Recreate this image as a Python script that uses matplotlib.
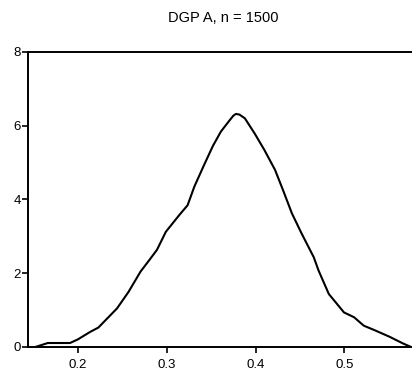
import matplotlib
matplotlib.use('Agg')
from matplotlib import pyplot as plt

# density estimate
x = [0.153, 0.166, 0.191, 0.200, 0.2136, 0.223, 0.244, 0.257, 0.2705, 0.280,
     0.289, 0.299, 0.314, 0.3235, 0.331, 0.342, 0.352, 0.361, 0.370, 0.375,
     0.378, 0.382, 0.388, 0.399, 0.410, 0.422, 0.431, 0.441, 0.452, 0.4656,
     0.471, 0.4826, 0.4997, 0.511, 0.522, 0.534, 0.551, 0.566, 0.5745]
y = [0.0, 0.10, 0.10, 0.20, 0.40, 0.52, 1.04, 1.49, 2.04, 2.34,
     2.63, 3.12, 3.57, 3.84, 4.34, 4.93, 5.45, 5.84, 6.12, 6.27,
     6.32, 6.30, 6.20, 5.79, 5.34, 4.80, 4.25, 3.62, 3.07, 2.43,
     2.07, 1.43, 0.93, 0.80, 0.57, 0.45, 0.27, 0.09, 0.0]
xticks = [0.2, 0.3, 0.4, 0.5]
yticks = [0, 2, 4, 6, 8]
title = 'DGP A, n = 1500'

plt.rcParams['font.family'] = ['Liberation Sans', 'DejaVu Sans']

fig = plt.figure(figsize=(4.12, 3.76), dpi=100)
ax = fig.add_axes([28 / 412, 1 - 346.7 / 376, 1 - 28 / 412, (346.7 - 52) / 376])
ax.plot(x, y, color='black', lw=1.5)

ax.set_xlim(0.1437, 0.5763)
ax.set_ylim(0, 8)
ax.set_xticks(xticks)
ax.set_xticklabels([str(t) for t in xticks])
ax.set_yticks(yticks)
ax.tick_params(direction='out', length=4, width=1.2, labelsize=9.5)
ax.tick_params(axis='x', pad=5)
ax.tick_params(axis='y', pad=1)
for s in ['left', 'bottom', 'top']:
    ax.spines[s].set_linewidth(1.4)
ax.spines['right'].set_visible(False)
fig.text(223 / 412, 1 - 18 / 376, title, ha='center', va='center', fontsize=10.5)

plt.savefig('out.png', dpi=100)
plt.close()
